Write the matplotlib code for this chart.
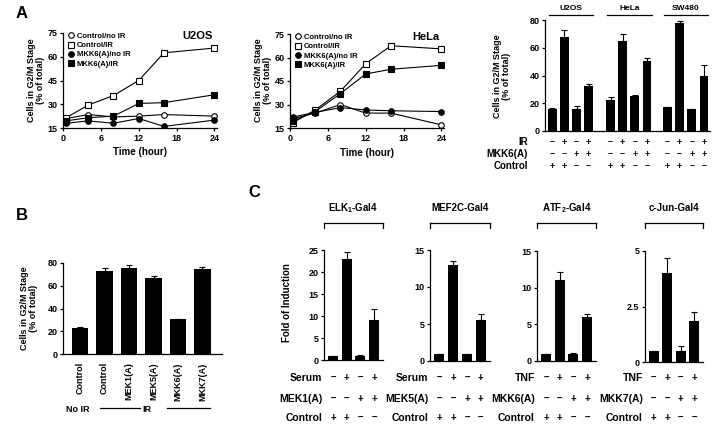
import numpy as np
import matplotlib
matplotlib.use("Agg")
import matplotlib.pyplot as plt
from matplotlib import transforms

plt.rcParams['font.family'] = ['Liberation Sans', 'DejaVu Sans']
plt.rcParams['font.weight'] = 'bold'
plt.rcParams['axes.labelweight'] = 'bold'
plt.rcParams['mathtext.fontset'] = 'custom'
plt.rcParams['mathtext.bf'] = 'Liberation Sans:bold'
plt.rcParams['mathtext.rm'] = 'Liberation Sans:bold'
plt.rcParams['axes.linewidth'] = 0.9

# ---- data ----
hours = [0.5, 4, 8, 12, 16, 24]
u2os_ctrl_noir = [21, 23.5, 22, 22.5, 23.5, 22.5]
u2os_ctrl_ir = [21.5, 29.5, 35.5, 45, 62.5, 65.5]
u2os_mkk6_noir = [18, 19.5, 18, 21, 16, 20]
u2os_mkk6_ir = [19.5, 21.5, 22.5, 30.5, 31, 36]
hela_ctrl_noir = [21, 24.5, 30, 24.5, 24.5, 17]
hela_ctrl_ir = [18.5, 26.5, 38.5, 56, 67.5, 65.5]
hela_mkk6_noir = [22, 25, 28, 26.5, 26, 25.5]
hela_mkk6_ir = [19.5, 25.5, 37, 49.5, 52.5, 55]
line_labels = ["Control/no IR", "Control/IR", "MKK6(A)/no IR", "MKK6(A)/IR"]

cell_lines = ["U2OS", "HeLa", "SW480"]
g2m_vals = [[15.5, 68, 16, 32.5], [22, 65, 25, 50.5], [17, 77.5, 15.5, 39.5]]
g2m_errs = [[1, 4.5, 2, 1.5], [2.5, 5, 1, 2], [0.5, 2, 0.5, 8]]
a_ir = ["–", "+", "–", "+"]
a_mkk6 = ["–", "–", "+", "+"]
a_ctrl = ["+", "+", "–", "–"]

b_labels = ["Control", "Control", "MEK1(A)", "MEK5(A)", "MKK6(A)", "MKK7(A)"]
b_vals = [23, 73, 76, 66.5, 31, 75]
b_errs = [0.5, 3, 2.5, 2.5, 0, 1.5]

c_titles = [r"ELK$_\mathbf{1}$-Gal4", "MEF2C-Gal4", r"ATF$_\mathbf{2}$-Gal4", "c-Jun-Gal4"]
c_vals = [[1, 23, 1, 9], [1, 13, 1, 5.5], [1, 11, 1, 6], [0.5, 4, 0.5, 1.85]]
c_errs = [[0, 1.5, 0.2, 2.7], [0, 0.5, 0, 0.8], [0, 1.2, 0.1, 0.4], [0, 0.7, 0.2, 0.4]]
c_ymax = [25, 15, 15, 5]
c_yticks = [[0, 5, 10, 15, 20, 25], [0, 5, 10, 15], [0, 5, 10, 15], [0, 2.5, 5]]
c_row1 = ["Serum", "Serum", "TNF", "TNF"]
c_row2 = ["MEK1(A)", "MEK5(A)", "MKK6(A)", "MKK7(A)"]
row1_signs = ["–", "+", "–", "+"]
row2_signs = ["–", "–", "+", "+"]
row3_signs = ["+", "+", "–", "–"]

W, H = 718, 428
fig = plt.figure(figsize=(W / 100, H / 100), dpi=100)


def box(l, t, r, b):
    return [l / W, 1 - b / H, (r - l) / W, (b - t) / H]


def fy(y):
    return 1 - y / H


def fline(x1, y1, x2, y2):
    fig.add_artist(plt.Line2D([x1 / W, x2 / W], [fy(y1), fy(y2)], color='black',
                              lw=0.9, transform=fig.transFigure))


def style(ax):
    ax.spines['top'].set_visible(False)
    ax.spines['right'].set_visible(False)
    ax.tick_params(direction='out', length=2.5, width=0.9, labelsize=6.5, pad=1.5)


def line_panel(ax, series, title):
    mk = [('o', 'white'), ('s', 'white'), ('o', 'black'), ('s', 'black')]
    for (m, fc), y, lab in zip(mk, series, line_labels):
        ax.plot(hours, y, color='black', lw=0.8, marker=m, markersize=4,
                markerfacecolor=fc, markeredgecolor='black', markeredgewidth=0.8, label=lab)
    ax.set_xlim(0, 24.4)
    ax.set_ylim(15, 75)
    ax.set_xticks([0, 6, 12, 18, 24])
    ax.set_yticks([15, 30, 45, 60, 75])
    style(ax)
    ax.legend(loc='upper left', frameon=False, fontsize=5.5, handlelength=0.9,
              handletextpad=0.3, labelspacing=0.25, borderaxespad=0.1, borderpad=0.1,
              bbox_to_anchor=(0.02, 1.02))
    ax.text(0.97, 0.97, title, transform=ax.transAxes, ha='right', va='center', fontsize=8)


def bar_err(ax, x, y, e):
    ax.bar(x, y, width=0.72, color='black')
    ax.errorbar(x, y, yerr=[np.zeros(len(e)), e], fmt='none', ecolor='black',
                elinewidth=0.8, capsize=2, capthick=0.8)


def sign_rows(ax, xs, rows, ys, fs=6.5):
    tr = transforms.blended_transform_factory(ax.transData, fig.transFigure)
    for signs, y in zip(rows, ys):
        for x, s in zip(xs, signs):
            ax.text(x, fy(y), s, transform=tr, ha='center', va='center', fontsize=fs)


# ---- panel A: time courses ----
a1 = fig.add_axes(box(63, 33, 217, 128))
line_panel(a1, [u2os_ctrl_noir, u2os_ctrl_ir, u2os_mkk6_noir, u2os_mkk6_ir], "U2OS")
a2 = fig.add_axes(box(290, 34, 444, 128))
line_panel(a2, [hela_ctrl_noir, hela_ctrl_ir, hela_mkk6_noir, hela_mkk6_ir], "HeLa")
for ax, xc, yl in [(a1, 140, 152), (a2, 367, 153)]:
    fig.text(xc / W, fy(yl), "Time (hour)", ha='center', va='center', fontsize=7)
ylab = "Cells in G2/M Stage\n(% of total)"
fig.text(36 / W, fy(80), ylab, rotation=90, ha='center', va='center', fontsize=6.5, linespacing=1.1)
fig.text(263 / W, fy(80), ylab, rotation=90, ha='center', va='center', fontsize=6.5, linespacing=1.1)

# ---- panel A: bars ----
a3 = fig.add_axes(box(545, 20, 710, 131))
offs = [0, 4.8, 9.5]
xs_all = []
for g, off in enumerate(offs):
    xs = [off + i for i in range(4)]
    xs_all += xs
    bar_err(a3, xs, g2m_vals[g], g2m_errs[g])
a3.set_xlim(-0.6, 13.0)
a3.set_ylim(0, 80)
a3.set_yticks([0, 20, 40, 60, 80])
a3.set_xticks([])
style(a3)
fig.text(502 / W, fy(76), ylab, rotation=90, ha='center', va='center', fontsize=6.5, linespacing=1.1)
for name, (x1, x2) in zip(cell_lines, [(549, 593), (607, 652), (664, 708)]):
    fline(x1, 15, x2, 15)
    fig.text((x1 + x2) / 2 / W, fy(8), name, ha='center', va='center', fontsize=6)
sign_rows(a3, xs_all, [a_ir * 3, a_mkk6 * 3, a_ctrl * 3], [142, 154, 166])
for lab, y in zip(["IR", "MKK6(A)", "Control"], [142, 154, 166]):
    fig.text(528 / W, fy(y), lab, ha='right', va='center', fontsize=7)

# ---- panel B ----
b = fig.add_axes(box(63, 263, 222, 354))
bx = np.arange(len(b_vals))
b.bar(bx, b_vals, width=0.68, color='black')
b.errorbar(bx, b_vals, yerr=[np.zeros(len(b_errs)), b_errs], fmt='none', ecolor='black',
           elinewidth=0.8, capsize=2, capthick=0.8)
b.set_xlim(-0.7, 5.8)
b.set_ylim(0, 80)
b.set_yticks([0, 20, 40, 60, 80])
b.set_xticks(bx)
b.set_xticklabels(b_labels, rotation=90, fontsize=6)
style(b)
b.tick_params(axis='x', length=0, pad=6)
fig.text(29 / W, fy(308), ylab, rotation=90, ha='center', va='center', fontsize=6.5, linespacing=1.1)
fig.text(78 / W, fy(409), "No IR", ha='center', va='center', fontsize=6.5)
fig.text(147 / W, fy(409), "IR", ha='center', va='center', fontsize=6.5)
fline(100, 408, 140, 408)
fline(167, 408, 210, 408)

# ---- panel C ----
c_boxes = [(324, 250, 383, 360), (430, 250, 490, 361), (537, 251, 596, 361), (645, 251, 703, 362)]
for k in range(4):
    l, t, r, bt = c_boxes[k]
    ax = fig.add_axes(box(l, t, r, bt))
    cx = np.arange(4)
    bar_err(ax, cx, c_vals[k], c_errs[k])
    ax.set_xlim(-0.66, 3.66)
    ax.set_ylim(0, c_ymax[k])
    ax.set_yticks(c_yticks[k])
    ax.set_yticklabels([("%g" % v) for v in c_yticks[k]])
    ax.set_xticks([])
    style(ax)
    # bracket and title
    fline(l, 223, r, 223)
    fline(l, 223, l, 228)
    fline(r, 223, r, 228)
    fig.text((l + r) / 2 / W, fy(208), c_titles[k], ha='center', va='center', fontsize=7)
    sign_rows(ax, cx, [row1_signs, row2_signs, row3_signs], [378, 399, 418], fs=7)
    for lab, y in zip([c_row1[k], c_row2[k], "Control"], [378, 399, 418]):
        fig.text((l - 2) / W, fy(y), lab, ha='right', va='center', fontsize=7.5)
fig.text(287 / W, fy(303), "Fold of Induction", rotation=90, ha='center', va='center', fontsize=7)

# ---- panel letters ----
fig.text(22 / W, fy(14), "A", fontsize=12, ha='center', va='center')
fig.text(22 / W, fy(216), "B", fontsize=12, ha='center', va='center')
fig.text(254 / W, fy(192), "C", fontsize=12, ha='center', va='center')

fig.savefig("out.png", dpi=100)
